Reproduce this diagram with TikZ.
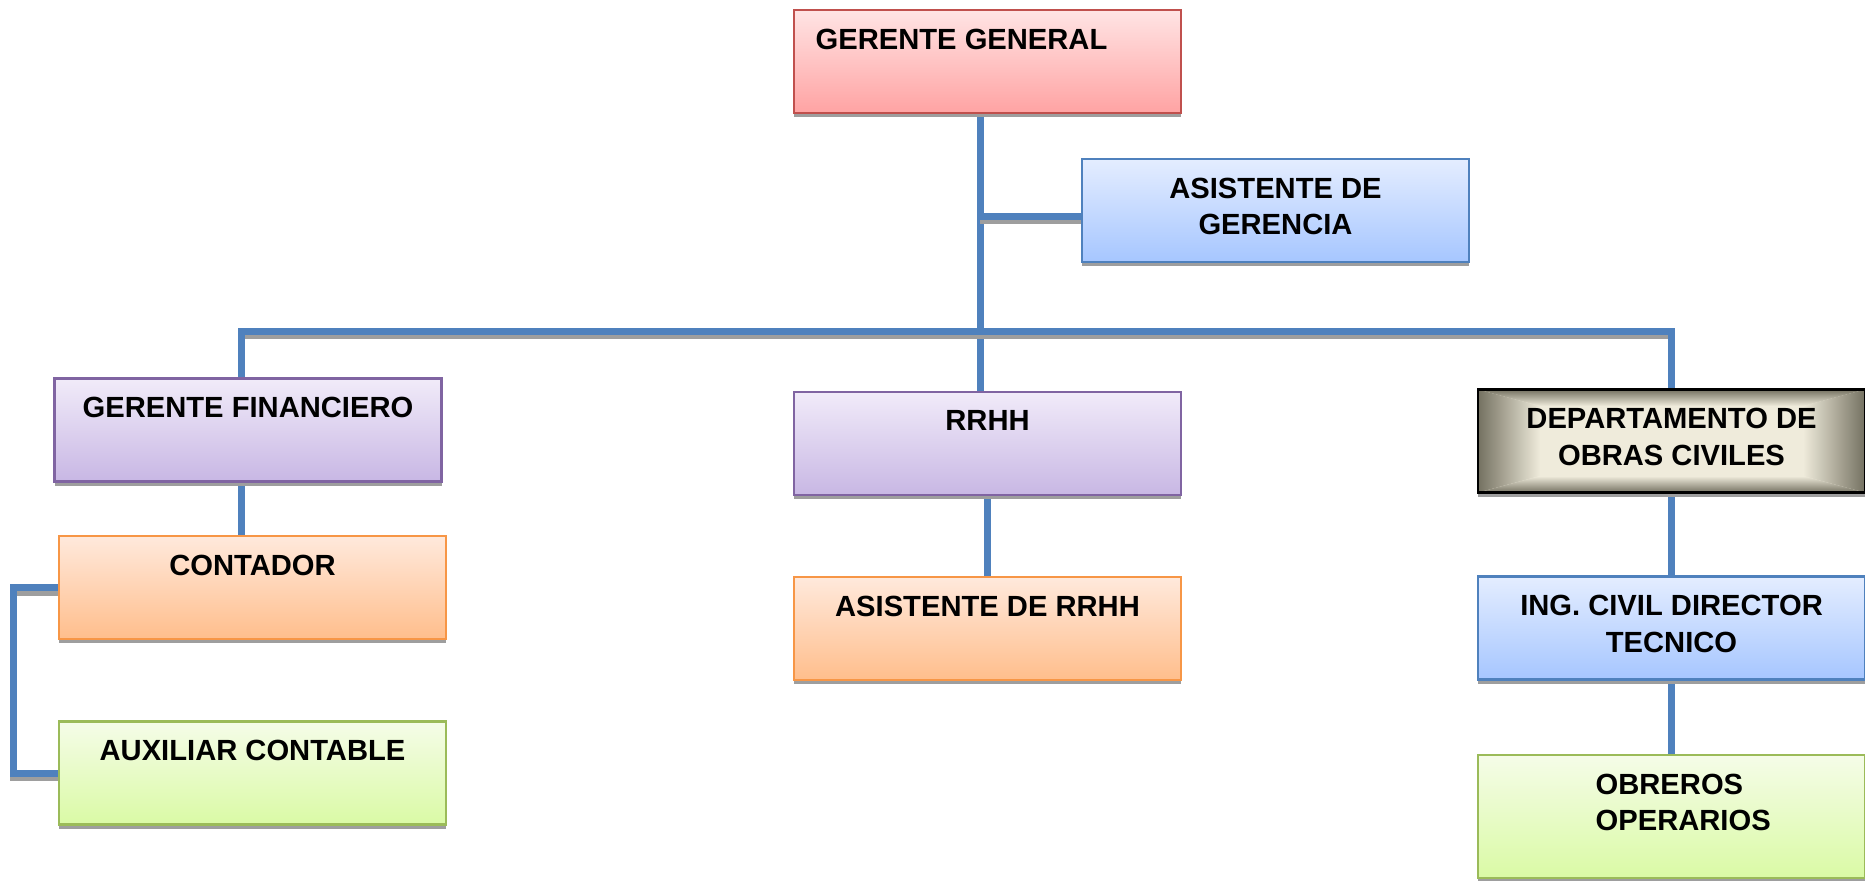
\documentclass[tikz,border=0pt]{standalone}
\usepackage{fontspec}
\setmainfont{Liberation Sans}
\usetikzlibrary{calc,positioning,shadows,backgrounds}
\definecolor{linkblue}{RGB}{79,129,189}
\definecolor{redline}{RGB}{192,80,77}
\definecolor{redtop}{RGB}{255,228,228}
\definecolor{redbot}{RGB}{255,163,163}
\definecolor{bluetop}{RGB}{228,237,255}
\definecolor{bluebot}{RGB}{166,198,255}
\definecolor{purpline}{RGB}{128,100,162}
\definecolor{purptop}{RGB}{241,235,249}
\definecolor{purpbot}{RGB}{200,183,228}
\definecolor{orline}{RGB}{247,150,70}
\definecolor{ortop}{RGB}{255,233,220}
\definecolor{orbot}{RGB}{255,190,140}
\definecolor{grline}{RGB}{155,187,89}
\definecolor{grtop}{RGB}{245,252,232}
\definecolor{grbot}{RGB}{218,250,165}
\definecolor{depmid}{RGB}{239,235,219}
\definecolor{depedge}{RGB}{116,113,97}
\tikzset{
	box/.style={rectangle, line width=0.6pt, minimum width=3.87cm, minimum height=1.03cm, inner sep=0pt,
		drop shadow={shadow xshift=0cm, shadow yshift=-0.04cm, fill=black!38, opacity=1}},
	redbox/.style={box, draw=redline, top color=redtop, bottom color=redbot},
	bluebox/.style={box, draw=linkblue, top color=bluetop, bottom color=bluebot},
	purpbox/.style={box, draw=purpline, top color=purptop, bottom color=purpbot},
	orbox/.style={box, draw=orline, top color=ortop, bottom color=orbot},
	grbox/.style={box, draw=grline, top color=grtop, bottom color=grbot},
	% light in the middle, darker toward every side
	depbox/.style={box, draw=black, fill=depmid, path picture={
		\coordinate (o1) at (path picture bounding box.north west);
		\coordinate (o2) at (path picture bounding box.north east);
		\coordinate (o3) at (path picture bounding box.south east);
		\coordinate (o4) at (path picture bounding box.south west);
		\coordinate (i1) at ($(o1)!0.16!(o3)$);
		\coordinate (i2) at ($(o2)!0.16!(o4)$);
		\coordinate (i3) at ($(o3)!0.16!(o1)$);
		\coordinate (i4) at ($(o4)!0.16!(o2)$);
		\shade[left color=depedge, right color=depmid] (o1) -- (i1) -- (i4) -- (o4) -- cycle;
		\shade[left color=depmid, right color=depedge] (o2) -- (i2) -- (i3) -- (o3) -- cycle;
		\shade[top color=depedge, bottom color=depmid] (o1) -- (o2) -- (i2) -- (i1) -- cycle;
		\shade[top color=depmid, bottom color=depedge] (o4) -- (o3) -- (i3) -- (i4) -- cycle;
	}},
	lbl/.style={inner sep=0pt, align=center, font=\fontsize{8.3}{10.5}\selectfont\bfseries},
	link/.style={line width=0.07cm, draw=linkblue,
		preaction={draw=black!38, line width=0.07cm, transform canvas={yshift=-0.045cm}}}
}

\begin{document}
\begin{tikzpicture}
		%%%%% START %%%%%
		
		\useasboundingbox (0, 0) rectangle (18.65, -8.8);
		
		\node[redbox] (gg) at (9.875, -0.615) {};
		\node[bluebox] (asg) at (12.755, -2.105) {};
		
		\node[purpbox] (gf) at (2.48, -4.30) {};
		\node[purpbox] (rrhh) at (9.875, -4.435) {};
		\node[depbox] (dep) at (16.715, -4.41) {};
		
		\node[orbox] (con) at (2.525, -5.875) {};
		\node[grbox] (aux) at (2.525, -7.73) {};
		\node[orbox] (arh) at (9.875, -6.285) {};
		\node[bluebox] (ing) at (16.715, -6.28) {};
		\node[grbox, minimum height=1.23cm] (ob) at (16.715, -8.165) {};
		
		\node[lbl, below right=0.19cm and 0.22cm of gg.north west] (gg-t) {GERENTE GENERAL};
		\node[lbl, below=0.19cm of asg.north] (asg-t) {ASISTENTE DE\\GERENCIA};
		\node[lbl, below=0.19cm of gf.north] (gf-t) {GERENTE FINANCIERO};
		\node[lbl, below=0.19cm of rrhh.north] (rrhh-t) {RRHH};
		\node[lbl, below=0.19cm of dep.north] (dep-t) {DEPARTAMENTO DE\\OBRAS CIVILES};
		\node[lbl, below=0.19cm of con.north] (con-t) {CONTADOR};
		\node[lbl, below=0.19cm of aux.north] (aux-t) {AUXILIAR CONTABLE};
		\node[lbl, below=0.19cm of arh.north] (arh-t) {ASISTENTE DE RRHH};
		\node[lbl, below=0.19cm of ing.north] (ing-t) {ING. CIVIL DIRECTOR\\TECNICO};
		\node[lbl, align=left, below right=0.19cm and 1.18cm of ob.north west] (ob-t) {OBREROS\\OPERARIOS};
		
		\begin{scope}[on background layer]
			\coordinate (bus) at (9.80, -3.31);
			\draw[link] ([xshift=-0.075cm]gg.south) -- ([xshift=-0.075cm]rrhh.north);
			\draw[link] ([xshift=-0.075cm, yshift=-0.055cm]gg.south |- asg.west) -- ([yshift=-0.055cm]asg.west);
			\draw[link] ([xshift=-0.07cm]gf.north) |- (bus) -| (dep.north);
			\draw[link] ([xshift=-0.07cm]gf.south) -- ([xshift=-0.07cm]gf.south |- con.north);
			\draw[link] (con.west) -- ++(-0.44, 0) |- (aux.west);
			\draw[link] (rrhh.south) -- (arh.north);
			\draw[link] (dep.south) -- (ing.north);
			\draw[link] (ing.south) -- (ob.north);
		\end{scope}
		
		%%%%% END %%%%%
\end{tikzpicture}
\end{document}
